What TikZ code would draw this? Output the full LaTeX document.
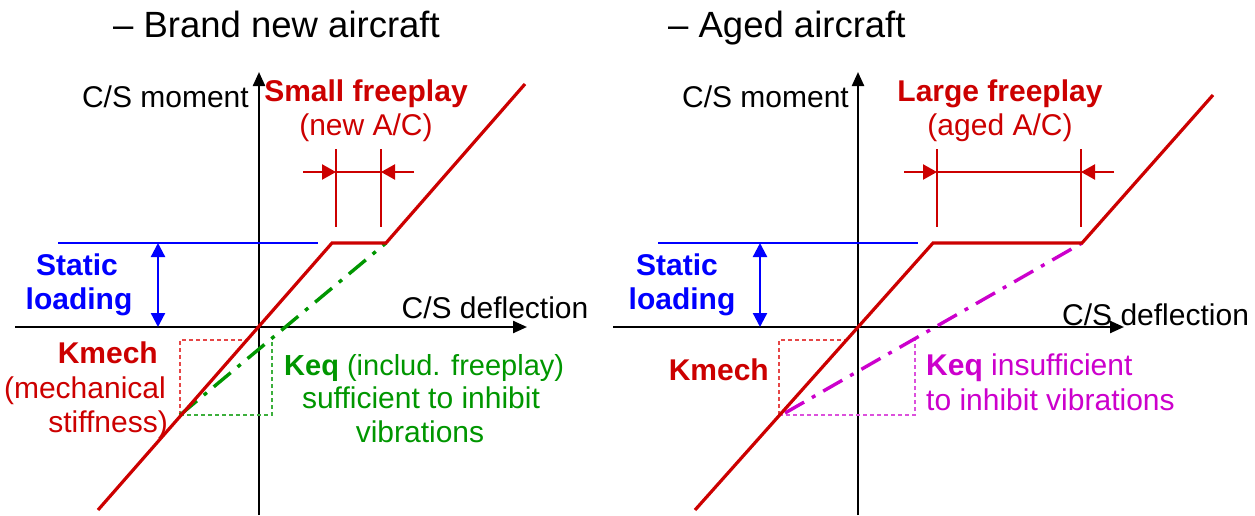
\documentclass[tikz,border=0pt]{standalone}
\usepackage{fontspec}
\setmainfont{Liberation Sans}
\usetikzlibrary{arrows.meta}
\definecolor{cred}{RGB}{204,0,0}
\definecolor{cblue}{RGB}{0,0,255}
\definecolor{cgreen}{RGB}{0,150,0}
\definecolor{cmag}{RGB}{204,0,204}
\definecolor{lred}{RGB}{230,70,70}
\definecolor{lgreen}{RGB}{60,175,60}
\definecolor{lmag}{RGB}{220,80,220}
\tikzset{
  txt/.style={inner sep=0pt, anchor=base, font=\fontsize{30}{36}\selectfont},
  ttl/.style={inner sep=0pt, anchor=base west, font=\fontsize{36.5}{42}\selectfont},
  axis/.style={line width=2.3pt, black, -{Triangle[length=14pt,width=12pt]}},
  curve/.style={line width=3.2pt, cred, line join=miter},
  level/.style={line width=2.3pt, cblue},
  load/.style={line width=2.3pt, cblue, {Triangle[length=14pt,width=14pt]}-{Triangle[length=14pt,width=14pt]}},
  dim/.style={line width=2.3pt, cred},
  dimtip/.style={line width=2.3pt, cred, -{Triangle[length=14pt,width=15pt]}},
  box/.style={line width=1.3pt, dash pattern=on 4pt off 3pt},
  keq/.style={line width=3.4pt, dash pattern=on 22pt off 9pt on 4pt off 9pt},
}
\begin{document}
\begin{tikzpicture}[x=1pt,y=-1pt]
\useasboundingbox (0,0) rectangle (1255,515);

% ---------------- brand new aircraft ----------------
\node[ttl] (t1) at (113,37) {– Brand new aircraft};

\coordinate (o1) at (259,327);
\coordinate (xl1) at (15,327);
\coordinate (xr1) at (527,327);
\coordinate (yb1) at (259,515);
\coordinate (yt1) at (259,72);
\draw[axis] (xl1) -- (xr1);
\draw[axis] (yb1) -- (yt1);

\node[txt, anchor=base east] (ym1) at (249,107) {C/S moment};
\node[txt] (xm1) at (495,318) {C/S deflection};

% freeplay dimension
\node[txt, cred] (fp1) at (366,101) {\bfseries Small freeplay};
\node[txt, cred] (fps1) at (366,135) {(new A/C)};
\coordinate (da1) at (336,149);
\coordinate (db1) at (336,227);
\coordinate (dc1) at (381,149);
\coordinate (dd1) at (381,227);
\draw[dim] (da1) -- (db1);
\draw[dim] (dc1) -- (dd1);
\coordinate (dl1) at (303,172);
\coordinate (dl1e) at (336,172);
\coordinate (dr1) at (414,172);
\coordinate (dr1e) at (381,172);
\draw[dim] (dl1e) -- (dr1e);
\draw[dimtip] (dl1) -- (dl1e);
\draw[dimtip] (dr1) -- (dr1e);

% static loading
\coordinate (sl1a) at (58,243);
\coordinate (sl1b) at (318,243);
\draw[level] (sl1a) -- (sl1b);
\coordinate (la1) at (158,243);
\coordinate (lb1) at (158,327);
\draw[load] (la1) -- (lb1);
\node[txt, cblue] (st1) at (77,275) {\bfseries Static};
\node[txt, cblue] (ld1) at (79,309) {\bfseries loading};

% stiffness boxes and equivalent stiffness
\coordinate (bl1) at (180,415);
\coordinate (bt1) at (180,340);
\coordinate (bk1) at (247,340);
\coordinate (br1) at (272,415);
\coordinate (brt1) at (272,340);
\draw[box, lred] (bl1) -- (bt1) -- (bk1);
\draw[box, lgreen] (bl1) -- (br1) -- (brt1);

% moment-deflection curve
\coordinate (c1a) at (98,510);
\coordinate (c1b) at (332,243);
\coordinate (c1c) at (386,243);
\coordinate (c1d) at (525,84);
\draw[keq, cgreen] (bl1) -- (c1c);
\draw[curve] (c1a) -- (c1b) -- (c1c) -- (c1d);

\node[txt, cred, anchor=base east] (km1) at (158,363) {\bfseries Kmech};
\node[txt, cred, anchor=base east] (kmt1) at (166,398) {(mechanical};
\node[txt, cred, anchor=base east] (kms1) at (168,432) {stiffness)};

\node[txt, cgreen, anchor=base west, font=\fontsize{29}{34}\selectfont] (kq1) at (284,375) {\bfseries Keq\mdseries{} (includ. freeplay)};
\node[txt, cgreen] (kqa1) at (421,408) {sufficient to inhibit};
\node[txt, cgreen] (kqb1) at (420,442) {vibrations};

% ---------------- aged aircraft ----------------
\node[ttl] (t2) at (668,37) {– Aged aircraft};

\coordinate (o2) at (858,327);
\coordinate (xl2) at (613,327);
\coordinate (xr2) at (1124,327);
\coordinate (yb2) at (858,515);
\coordinate (yt2) at (858,72);
\draw[axis] (xl2) -- (xr2);
\draw[axis] (yb2) -- (yt2);

\node[txt, anchor=base east] (ym2) at (849,107) {C/S moment};
\node[txt, anchor=base west] (xm2) at (1062,325) {C/S deflection};

\node[txt, cred] (fp2) at (1000,101) {\bfseries Large freeplay};
\node[txt, cred] (fps2) at (1000,135) {(aged A/C)};
\coordinate (da2) at (937,149);
\coordinate (db2) at (937,227);
\coordinate (dc2) at (1081,149);
\coordinate (dd2) at (1081,227);
\draw[dim] (da2) -- (db2);
\draw[dim] (dc2) -- (dd2);
\coordinate (dl2) at (904,172);
\coordinate (dl2e) at (937,172);
\coordinate (dr2) at (1114,172);
\coordinate (dr2e) at (1081,172);
\draw[dim] (dl2e) -- (dr2e);
\draw[dimtip] (dl2) -- (dl2e);
\draw[dimtip] (dr2) -- (dr2e);

\coordinate (sl2a) at (658,243);
\coordinate (sl2b) at (918,243);
\draw[level] (sl2a) -- (sl2b);
\coordinate (la2) at (760,243);
\coordinate (lb2) at (760,327);
\draw[load] (la2) -- (lb2);
\node[txt, cblue] (st2) at (677,275) {\bfseries Static};
\node[txt, cblue] (ld2) at (682,309) {\bfseries loading};

\coordinate (bl2) at (779,415);
\coordinate (bt2) at (779,340);
\coordinate (bk2) at (846,340);
\coordinate (br2) at (915,415);
\coordinate (brt2) at (915,340);
\draw[box, lred] (bl2) -- (bt2) -- (bk2);
\draw[box, lmag] (bl2) -- (br2) -- (brt2);

\coordinate (c2a) at (695,510);
\coordinate (c2b) at (933,243);
\coordinate (c2c) at (1082,243);
\coordinate (c2d) at (1213,95);
\coordinate (k2s) at (785,413);
\draw[keq, cmag] (k2s) -- (c2c);
\draw[curve] (c2a) -- (c2b) -- (c2c) -- (c2d);

\node[txt, cred, anchor=base east] (km2) at (769,380) {\bfseries Kmech};
\node[txt, cmag, anchor=base west] (kq2) at (926,375) {\bfseries Keq\mdseries{} insufficient};
\node[txt, cmag, anchor=base west] (kqa2) at (926,410) {to inhibit vibrations};
\end{tikzpicture}
\end{document}
